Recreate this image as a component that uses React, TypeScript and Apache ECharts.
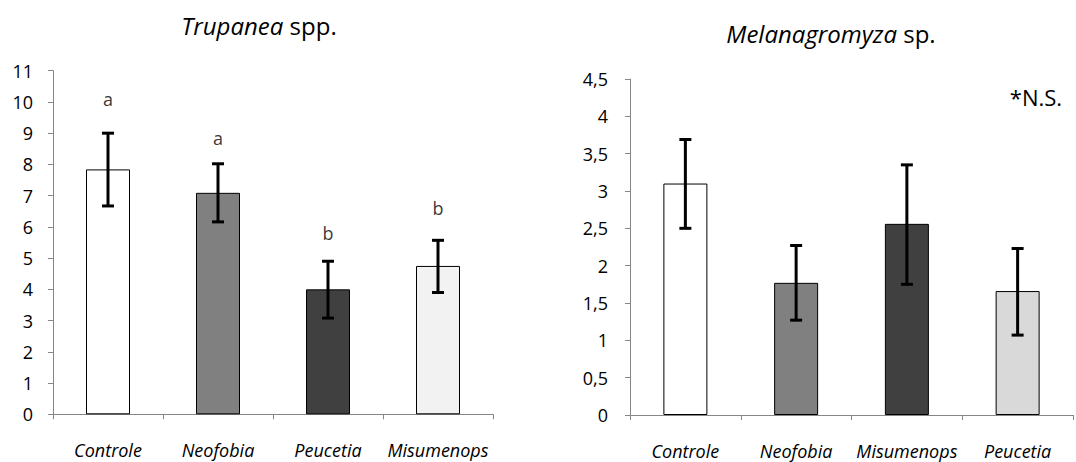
import React, { useEffect, useRef } from "react";
import * as echarts from "echarts";

const leftCategories = ["Controle", "Neofobia", "Peucetia", "Misumenops"];
const leftMeans = [7.84, 7.09, 4.0, 4.75];
const leftErrLow = [6.67, 6.16, 3.08, 3.9];
const leftErrHigh = [9.0, 8.02, 4.9, 5.57];
const leftLetters = ["a", "a", "b", "b"];
const leftLetterY = [10.1, 8.85, 5.8, 6.6];
const leftTicks = [0, 1, 2, 3, 4, 5, 6, 7, 8, 9, 10, 11];

const rightCategories = ["Controle", "Neofobia", "Misumenops", "Peucetia"];
const rightMeans = [3.1, 1.77, 2.56, 1.66];
const rightErrLow = [2.5, 1.27, 1.75, 1.07];
const rightErrHigh = [3.69, 2.27, 3.35, 2.23];
const rightTicks = ["0", "0,5", "1", "1,5", "2", "2,5", "3", "3,5", "4", "4,5"];

const leftColors = ["#ffffff", "#808080", "#404040", "#f2f2f2"];
const rightColors = ["#ffffff", "#808080", "#404040", "#d9d9d9"];

const FONT = "Open Sans";

function errorRender(params: any, api: any) {
  const x = api.value(0);
  const lo = api.coord([x, api.value(1)]);
  const hi = api.coord([x, api.value(2)]);
  const cw = 6;
  const st = { stroke: "#000", lineWidth: 3 };
  return {
    type: "group",
    children: [
      { type: "line", shape: { x1: lo[0], y1: lo[1], x2: hi[0], y2: hi[1] }, style: st },
      { type: "line", shape: { x1: hi[0] - cw, y1: hi[1], x2: hi[0] + cw, y2: hi[1] }, style: st },
      { type: "line", shape: { x1: lo[0] - cw, y1: lo[1], x2: lo[0] + cw, y2: lo[1] }, style: st },
    ],
  };
}

export default function App() {
  const ref = useRef<HTMLDivElement>(null);
  useEffect(() => {
    const chart = echarts.init(ref.current!, undefined, { renderer: "svg" });
    const axisLineStyle = { lineStyle: { color: "#868686", width: 1 } };
    const xAxisBase = (cats: string[], gi: number) => ({
      type: "category",
      gridIndex: gi,
      data: cats,
      boundaryGap: true,
      axisLine: axisLineStyle,
      axisTick: { show: true, length: 5, interval: 0, lineStyle: { color: "#868686" } },
      axisLabel: {
        interval: 0,
        fontFamily: FONT,
        fontSize: 18,
        fontStyle: "italic",
        color: "#000",
        margin: 27,
      },
    });
    chart.setOption({
      animation: false,
      textStyle: { fontFamily: FONT },
      grid: [
        { left: 53, top: 70.7, width: 440, height: 343.6 },
        { left: 630, top: 79, width: 443, height: 336 },
      ],
      xAxis: [xAxisBase(leftCategories, 0), xAxisBase(rightCategories, 1)],
      yAxis: [
        {
          type: "value",
          gridIndex: 0,
          min: 0,
          max: 11,
          interval: 1,
          splitLine: { show: false },
          axisLine: { show: true, ...axisLineStyle },
          axisTick: { show: true, length: 5, lineStyle: { color: "#868686" } },
          axisLabel: {
            fontFamily: FONT,
            fontSize: 18,
            color: "#000",
            margin: 20,
            formatter: (v: number) => String(leftTicks[Math.round(v)]),
          },
        },
        {
          type: "value",
          gridIndex: 1,
          min: 0,
          max: 4.5,
          interval: 0.5,
          splitLine: { show: false },
          axisLine: { show: true, ...axisLineStyle },
          axisTick: { show: true, length: 5, lineStyle: { color: "#868686" } },
          axisLabel: {
            fontFamily: FONT,
            fontSize: 18,
            color: "#000",
            margin: 22,
            formatter: (v: number) => rightTicks[Math.round(v * 2)],
          },
        },
      ],
      graphic: [
        {
          type: "text",
          x: 259,
          y: 25,
          style: {
            text: "{i|Trupanea} spp.",
            fontFamily: FONT,
            fontSize: 24,
            fill: "#000",
            align: "center",
            verticalAlign: "middle",
            rich: { i: { fontStyle: "italic", fontFamily: FONT, fontSize: 24 } },
          },
        },
        {
          type: "text",
          x: 831,
          y: 33,
          style: {
            text: "{i|Melanagromyza} sp.",
            fontFamily: FONT,
            fontSize: 24,
            fill: "#000",
            align: "center",
            verticalAlign: "middle",
            rich: { i: { fontStyle: "italic", fontFamily: FONT, fontSize: 24 } },
          },
        },
        {
          type: "text",
          x: 1036,
          y: 97,
          style: {
            text: "*N.S.",
            fontFamily: FONT,
            fontSize: 22,
            fill: "#000",
            align: "center",
            verticalAlign: "middle",
          },
        },
      ],
      series: [
        {
          type: "bar",
          xAxisIndex: 0,
          yAxisIndex: 0,
          barWidth: 44,
          data: leftMeans.map((v, i) => ({
            value: v,
            itemStyle: { color: leftColors[i], borderColor: "#000", borderWidth: 1 },
          })),
        },
        {
          type: "custom",
          xAxisIndex: 0,
          yAxisIndex: 0,
          renderItem: errorRender,
          data: leftCategories.map((c, i) => [i, leftErrLow[i], leftErrHigh[i]]),
          z: 5,
        },
        {
          type: "scatter",
          xAxisIndex: 0,
          yAxisIndex: 0,
          symbolSize: 1,
          itemStyle: { color: "transparent" },
          label: {
            show: true,
            position: "inside",
            fontFamily: FONT,
            fontSize: 18,
            color: "#000",
            formatter: (p: any) => leftLetters[p.dataIndex],
          },
          data: leftCategories.map((c, i) => [i, leftLetterY[i]]),
        },
        {
          type: "bar",
          xAxisIndex: 1,
          yAxisIndex: 1,
          barWidth: 44,
          data: rightMeans.map((v, i) => ({
            value: v,
            itemStyle: { color: rightColors[i], borderColor: "#000", borderWidth: 1 },
          })),
        },
        {
          type: "custom",
          xAxisIndex: 1,
          yAxisIndex: 1,
          renderItem: errorRender,
          data: rightCategories.map((c, i) => [i, rightErrLow[i], rightErrHigh[i]]),
          z: 5,
        },
      ],
    });
    return () => chart.dispose();
  }, []);
  return (
    <div
      ref={ref}
      style={{ position: "fixed", left: 0, top: 0, width: 1076, height: 462, background: "#fff" }}
    />
  );
}
